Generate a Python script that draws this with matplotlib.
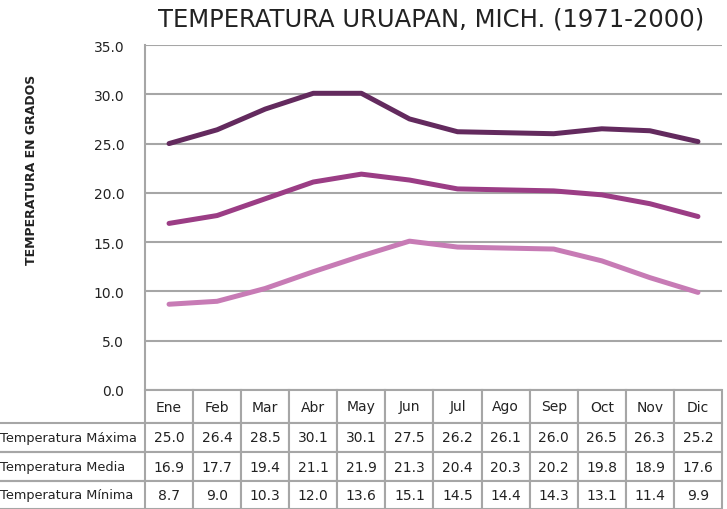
import numpy as np
import matplotlib
matplotlib.use("Agg")
import matplotlib.pyplot as plt

meses = ["Ene", "Feb", "Mar", "Abr", "May", "Jun", "Jul", "Ago", "Sep", "Oct", "Nov", "Dic"]
t_max = [25.0, 26.4, 28.5, 30.1, 30.1, 27.5, 26.2, 26.1, 26.0, 26.5, 26.3, 25.2]
t_media = [16.9, 17.7, 19.4, 21.1, 21.9, 21.3, 20.4, 20.3, 20.2, 19.8, 18.9, 17.6]
t_min = [8.7, 9.0, 10.3, 12.0, 13.6, 15.1, 14.5, 14.4, 14.3, 13.1, 11.4, 9.9]
series = ["Temperatura Máxima", "Temperatura Media", "Temperatura Mínima"]
colores = ["#632a5e", "#9b3d85", "#c77bb5"]

plt.rcParams['font.family'] = ['DejaVu Sans']
W, H = 727, 510
fig = plt.figure(figsize=(W / 100, H / 100), dpi=100)

# plot area in pixels
x0, x1, ytop, ybot = 145, 722, 46, 391
ax = fig.add_axes([x0 / W, 1 - ybot / H, (x1 - x0) / W, (ybot - ytop) / H])
x = np.arange(len(meses))
for vals, c in zip([t_max, t_media, t_min], colores):
    ax.plot(x, vals, color=c, lw=3.6, solid_capstyle='round', solid_joinstyle='round', zorder=3)

ax.set_xlim(-0.5, len(meses) - 0.5)
ax.set_ylim(0, 35)
ax.set_yticks(np.arange(0, 36, 5))
ax.set_yticklabels([f"{v:.1f}" for v in np.arange(0, 36, 5)], fontsize=10, color="#222222")
ax.set_xticks([])
ax.tick_params(axis='y', length=0, pad=15)
ax.grid(axis='y', color="#a6a6a6", lw=1.5)
ax.set_axisbelow(True)
for s in ["top", "right", "bottom"]:
    ax.spines[s].set_visible(False)
ax.spines["left"].set_color("#a6a6a6")
ax.spines["left"].set_linewidth(1.5)

# data table below the axes
cell_text = [[name] + [f"{v:.1f}" for v in vals] for name, vals in zip(series, [t_max, t_media, t_min])]
col_w = [x0] + [(x1 - x0) / 12] * 12
row_h = [33, 29, 29, 28]
tbl = ax.table(cellText=cell_text, colLabels=[""] + meses, colWidths=[w / x1 for w in col_w],
               cellLoc='center',
               bbox=[-x0 / (x1 - x0), -(H - ybot) / (ybot - ytop), x1 / (x1 - x0), (H - ybot) / (ybot - ytop)])
tbl.auto_set_font_size(False)
for (r, c), cell in tbl.get_celld().items():
    cell.set_height(row_h[r] / sum(row_h))
    cell.set_edgecolor("#a6a6a6")
    cell.set_linewidth(1.5)
    cell.get_text().set_fontsize(10)
    cell.get_text().set_color("#222222")
    if c == 0:
        if r == 0:
            cell.visible_edges = ""
        else:
            cell.visible_edges = "BT"
            cell.get_text().set_fontsize(9.3)
            cell.get_text().set_ha("left")
            cell._loc = 'left'
            cell.PAD = 0.0

fig.text(431 / W, 1 - 20 / H, "TEMPERATURA URUAPAN, MICH. (1971-2000)", ha='center', va='center',
         fontsize=17.5, color="#222222")
fig.text(32 / W, 1 - 170 / H, "TEMPERATURA EN GRADOS", rotation=90, ha='center', va='center',
         fontsize=9, fontweight='bold', color="#222222")

fig.savefig("out.png", dpi=100)
